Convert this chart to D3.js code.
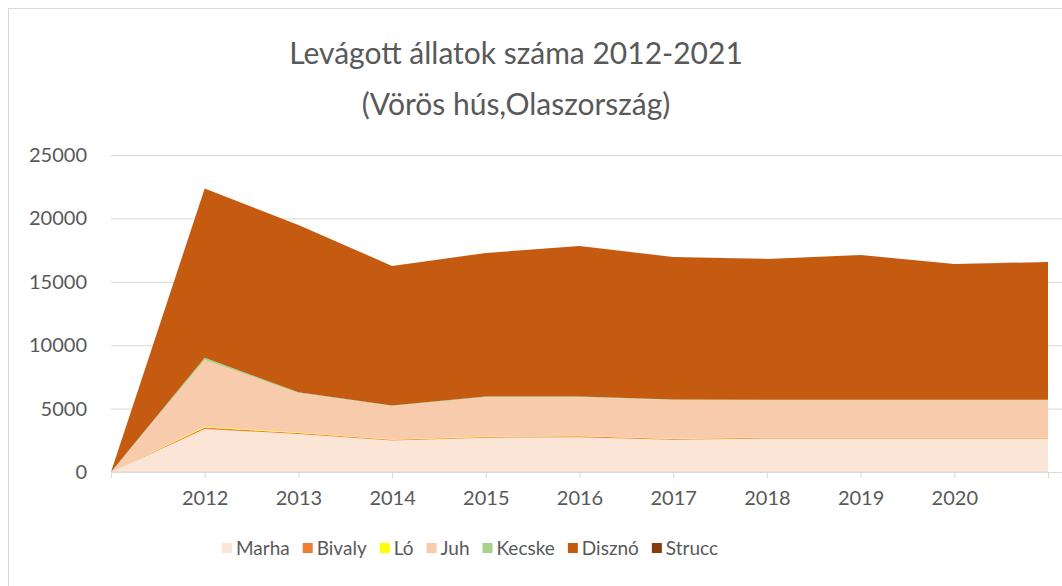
<!DOCTYPE html>
<html>
<head>
<meta charset="utf-8">
<script src="https://cdn.jsdelivr.net/npm/d3@7"></script>
<style>
  body { margin: 0; background: #fff; }
  svg { display: block; font-family: Lato, "Open Sans", sans-serif; }
</style>
</head>
<body>
<svg id="chart" width="1062" height="586"></svg>
<script>
// x categories (first and last ticks carry no label in the original)
var years = ["", "2012", "2013", "2014", "2015", "2016", "2017", "2018", "2019", "2020", ""];

var seriesNames = ["Marha", "Bivaly", "Ló", "Juh", "Kecske", "Disznó", "Strucc"];
var seriesColors = ["#FBE5D6", "#ED7D31", "#FFFF00", "#F8CBAD", "#A9D18E", "#C55A11", "#843C0C"];

var marha  = [0, 3400, 3000, 2480, 2700, 2750, 2550, 2650, 2650, 2650, 2650];
var bivaly = [0, 100, 80, 60, 70, 70, 60, 60, 60, 60, 60];
var lo     = [0, 60, 30, 20, 20, 20, 15, 15, 15, 15, 15];
var juh    = [0, 5270, 3120, 2640, 3110, 3060, 3055, 2925, 2925, 2925, 2925];
var kecske = [0, 180, 60, 50, 50, 50, 40, 40, 40, 40, 40];
var diszno = [0, 13340, 13190, 11000, 11320, 11870, 11230, 11110, 11420, 10710, 10870];
var strucc = [0, 5, 5, 5, 5, 5, 5, 5, 5, 5, 5];

var yTicks = [0, 5000, 10000, 15000, 20000, 25000];

var titleLines = ["Levágott állatok száma 2012-2021", "(Vörös hús,Olaszország)"];

function areaChart() {
  var svg = d3.select("#chart");
  var textColor = "#595959",
    gridColor = "#D9D9D9";

  var allSeries = [marha, bivaly, lo, juh, kecske, diszno, strucc];

  // build rows for d3.stack
  var rows = years.map(function (y, i) {
    var r = { idx: i };
    seriesNames.forEach(function (n, k) { r[n] = allSeries[k][i]; });
    return r;
  });

  var stacked = d3.stack().keys(seriesNames)(rows);

  var x = d3.scaleLinear().domain([0, years.length - 1]).range([111, 1048]);
  var y = d3.scaleLinear().domain([0, 25000]).range([472, 155]);

  // chart border
  svg.append("rect")
    .attr("x", 8.5).attr("y", 8.5)
    .attr("width", 1100).attr("height", 600)
    .attr("fill", "#fff")
    .attr("stroke", gridColor);

  // title
  svg.append("g").selectAll("text")
    .data(titleLines)
    .enter().append("text")
    .attr("x", 516)
    .attr("y", function (d, i) { return 64 + i * 51; })
    .attr("text-anchor", "middle")
    .attr("font-size", 30)
    .attr("fill", textColor)
    .text(function (d) { return d; });

  // gridlines + y labels
  var yAxis = d3.axisLeft(y)
    .tickValues(yTicks)
    .tickSize(-(1062 - 111))
    .tickPadding(24)
    .tickFormat(d3.format("d"));

  var gy = svg.append("g")
    .attr("transform", "translate(111,0)")
    .call(yAxis);
  gy.select(".domain").remove();
  gy.selectAll(".tick line").attr("stroke", gridColor);
  gy.selectAll(".tick text")
    .attr("fill", textColor)
    .attr("font-size", 20)
    .attr("font-family", "Lato, sans-serif");

  // areas
  var area = d3.area()
    .x(function (d) { return x(d.data.idx); })
    .y0(function (d) { return y(d[0]); })
    .y1(function (d) { return y(d[1]); });

  svg.append("g")
    .selectAll("path")
    .data(stacked)
    .enter().append("path")
    .attr("fill", function (d, i) { return seriesColors[i]; })
    .attr("d", area);

  // x axis
  var xAxis = d3.axisBottom(x)
    .tickValues(d3.range(years.length))
    .tickSize(6)
    .tickPadding(13)
    .tickFormat(function (i) { return years[i]; });

  var gx = svg.append("g")
    .attr("transform", "translate(0,472)")
    .call(xAxis);
  gx.select(".domain").attr("stroke", gridColor).attr("d", "M111,0H1048");
  gx.selectAll(".tick line").attr("stroke", gridColor);
  gx.selectAll(".tick text")
    .attr("fill", textColor)
    .attr("font-size", 20)
    .attr("font-family", "Lato, sans-serif");

  // legend, laid out by measured text width and centred
  var legend = svg.append("g").attr("transform", "translate(0,548)");
  var items = legend.selectAll("g")
    .data(seriesNames)
    .enter().append("g");
  items.append("rect")
    .attr("width", 10).attr("height", 10)
    .attr("y", -5)
    .attr("fill", function (d, i) { return seriesColors[i]; });
  items.append("text")
    .attr("x", 14)
    .attr("dy", "0.35em")
    .attr("font-size", 19)
    .attr("fill", textColor)
    .text(function (d) { return d; });

  var gap = 13;
  var offs = [], total = 0;
  items.each(function () {
    var w = 14 + this.querySelector("text").getComputedTextLength();
    offs.push(total);
    total += w + gap;
  });
  total -= gap;
  var start = 470 - total / 2;
  items.attr("transform", function (d, i) { return "translate(" + (start + offs[i]) + ",0)"; });
}

areaChart();
</script>
</body>
</html>
